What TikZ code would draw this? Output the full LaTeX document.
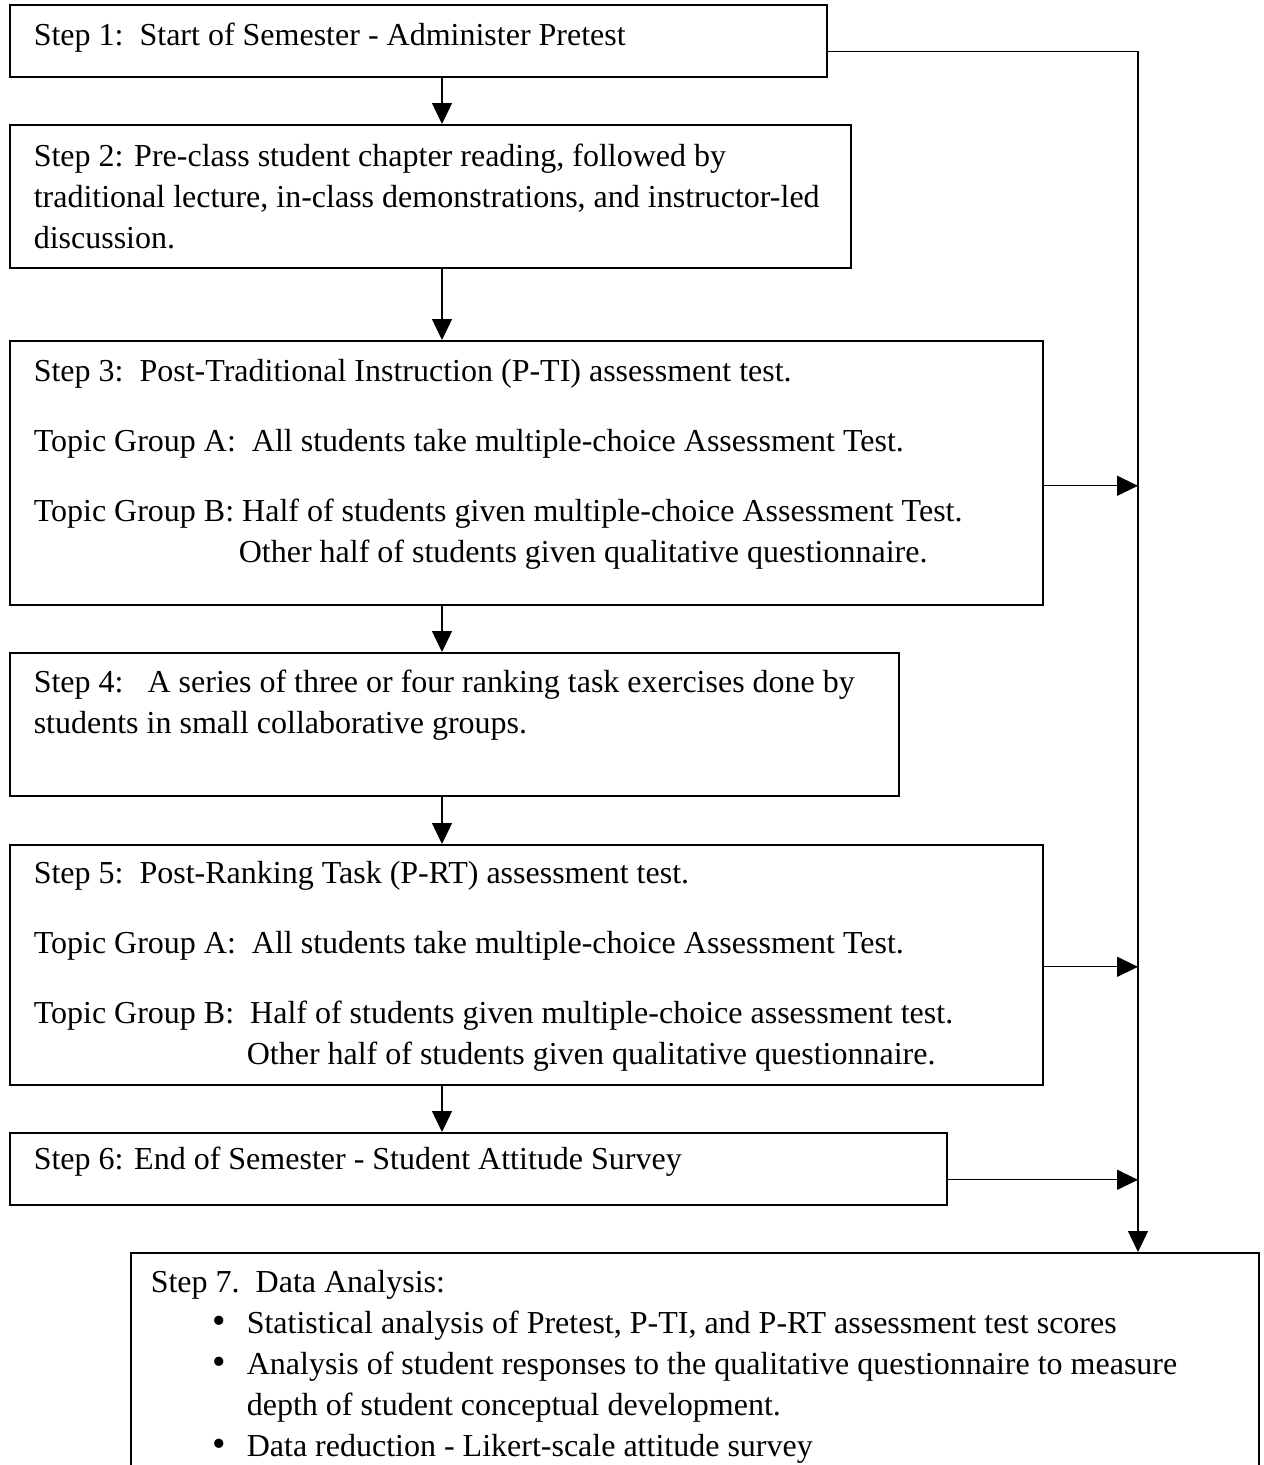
\documentclass[tikz,border=0pt]{standalone}
\usepackage{fontspec}
\setmainfont{Liberation Serif}
\usetikzlibrary{arrows.meta,calc}

% lines of a step box: #1 box width, #2 left indent, #3 lines
\newcommand\boxlines[3]{\makebox[#1][l]{\hspace*{#2}\begin{tabular}[t]{@{}l@{}}#3\end{tabular}}}
\newcommand\bul{\makebox[34pt][l]{\scalebox{1.2}{\textbullet}}}

\begin{document}
\begin{tikzpicture}[x=1pt,y=-1pt,
  font=\fontsize{32}{41}\selectfont,
  % a step box: #1 distance from top edge to first baseline, #2 rest of the height
  stepbox/.style 2 args={draw, line width=1.6pt, anchor=north west, inner sep=0pt,
    text height=#1, text depth=#2},
  flow/.style={line width=1.3pt, -{Triangle[length=21pt,width=20pt]}}]

\clip (0,0) rectangle (1264,1465);
\fill[white] (0,0) rectangle (1264,1465);

\coordinate (spine) at (442,0);
\coordinate (bus) at (1138,0);

\node[stepbox={41pt}{31pt}] (b1) at (9,4)
  {\boxlines{817pt}{24pt}{Step 1:\ \ Start of Semester - Administer Pretest}};

\node[stepbox={42pt}{101pt}] (b2) at (9,124)
  {\boxlines{841pt}{24pt}{Step 2: Pre-class student chapter reading, followed by\\
   traditional lecture, in-class demonstrations, and instructor-led\\
   discussion.}};

\node[stepbox={41pt}{223pt}] (b3) at (9,340)
  {\boxlines{1033pt}{24pt}{Step 3:\ \ Post-Traditional Instruction (P-TI) assessment test.\\[29pt]
   Topic Group A:\ \ All students take multiple-choice Assessment Test.\\[29pt]
   Topic Group B: Half of students given multiple-choice Assessment Test.\\
   \hspace*{205pt}Other half of students given qualitative questionnaire.}};

\node[stepbox={40pt}{103pt}] (b4) at (9,652)
  {\boxlines{889pt}{24pt}{Step 4:\ \ \ A series of three or four ranking task exercises done by\\
   students in small collaborative groups.}};

\node[stepbox={39pt}{201pt}] (b5) at (9,844)
  {\boxlines{1033pt}{24pt}{Step 5:\ \ Post-Ranking Task (P-RT) assessment test.\\[29pt]
   Topic Group A:\ \ All students take multiple-choice Assessment Test.\\[29pt]
   Topic Group B:\ \ Half of students given multiple-choice assessment test.\\
   \hspace*{213pt}Other half of students given qualitative questionnaire.}};

\node[stepbox={37pt}{35pt}] (b6) at (9,1132)
  {\boxlines{937pt}{24pt}{Step 6: End of Semester - Student Attitude Survey}};

\node[stepbox={40pt}{240pt}] (b7) at (130,1252)
  {\boxlines{1128pt}{20pt}{Step 7.\ \ Data Analysis:\\
   \hspace*{62pt}\bul Statistical analysis of Pretest, P-TI, and P-RT assessment test scores\\
   \hspace*{62pt}\bul Analysis of student responses to the qualitative questionnaire to measure\\
   \hspace*{96pt}depth of student conceptual development.\\
   \hspace*{62pt}\bul Data reduction - Likert-scale attitude survey}};

% main sequence
\draw[flow] (b1.south -| spine) -- (b2.north -| spine);
\draw[flow] (b2.south -| spine) -- (b3.north -| spine);
\draw[flow] (b3.south -| spine) -- (b4.north -| spine);
\draw[flow] (b4.south -| spine) -- (b5.north -| spine);
\draw[flow] (b5.south -| spine) -- (b6.north -| spine);

% data collected into the analysis step
\draw[flow] ([yshift=-11pt]b1.east) -| (b7.north -| bus);
\draw[flow] ([yshift=-13pt]b3.east) -- ([yshift=-13pt]b3.east -| bus);
\draw[flow] ([yshift=-2pt]b5.east) -- ([yshift=-2pt]b5.east -| bus);
\draw[flow] ([yshift=-11pt]b6.east) -- ([yshift=-11pt]b6.east -| bus);
\end{tikzpicture}
\end{document}
